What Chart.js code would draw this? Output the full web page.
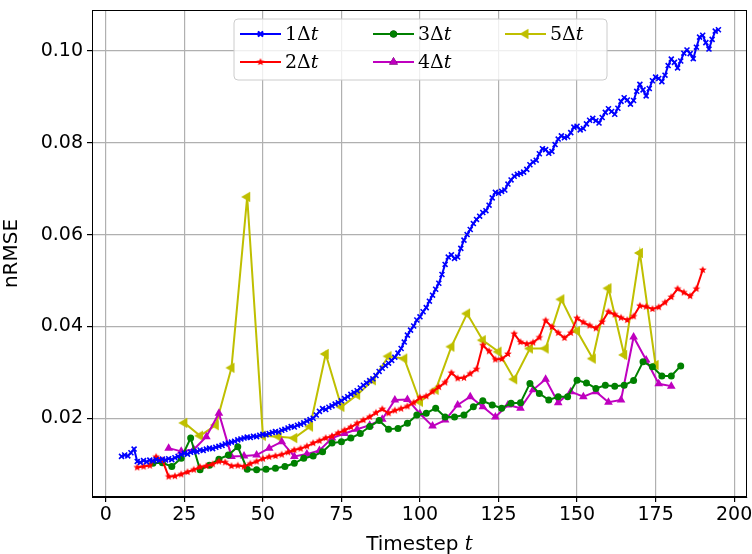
<!DOCTYPE html>
<html>
<head>
<meta charset="utf-8">
<script src="https://cdn.jsdelivr.net/npm/chart.js@4/dist/chart.umd.min.js"></script>
<style>
  html, body { margin: 0; padding: 0; background: #fff; overflow: hidden; }
  #wrap { width: 752px; height: 554px; overflow: hidden; }
</style>
</head>
<body>
<!-- canvas is 3px wider than the window: Chart.js keeps 3px spare on the right -->
<div id="wrap"><canvas id="chart" width="755" height="554"></canvas></div>
<script>
// tick labels
const xTicks = [0, 25, 50, 75, 100, 125, 150, 175, 200];
const yTicks = [0.02, 0.04, 0.06, 0.08, 0.10];

// 1Δt : t = 5..195
const x1 = [];
for (let t = 5; t <= 195; t++) x1.push(t);
const y1 = [
  0.0117, 0.0120, 0.0118, 0.0125, 0.0133, 0.0106, 0.0104, 0.0108, 0.0105, 0.0109,
  0.0107, 0.0110, 0.0108, 0.0111, 0.0109, 0.0112, 0.0110, 0.0114, 0.0117, 0.0121,
  0.0124, 0.0122, 0.0126, 0.0128, 0.0127, 0.0131, 0.0130, 0.0133, 0.0135, 0.0134,
  0.0137, 0.0139, 0.0141, 0.0144, 0.0146, 0.0148, 0.0150, 0.0153, 0.0155, 0.0157,
  0.0159, 0.0158, 0.0161, 0.0160, 0.0163, 0.0165, 0.0164, 0.0167, 0.0169, 0.0171,
  0.0170, 0.0174, 0.0176, 0.0179, 0.0182, 0.0181, 0.0185, 0.0187, 0.0190, 0.0194,
  0.0197, 0.0200, 0.0207, 0.0215, 0.0221, 0.0219, 0.0224, 0.0227, 0.0231, 0.0234,
  0.0238, 0.0243, 0.0247, 0.0252, 0.0256, 0.0260, 0.0266, 0.0272, 0.0277, 0.0282,
  0.0286, 0.0293, 0.0302, 0.0309, 0.0315, 0.0320, 0.0326, 0.0333, 0.0342, 0.0352,
  0.0366, 0.0381, 0.0392, 0.0401, 0.0414, 0.0421, 0.0432, 0.0441, 0.0455, 0.0468,
  0.0481, 0.0494, 0.0513, 0.0535, 0.0551, 0.0556, 0.0548, 0.0551, 0.0570, 0.0588,
  0.0600, 0.0611, 0.0624, 0.0633, 0.0640, 0.0648, 0.0652, 0.0664, 0.0680, 0.0692,
  0.0690, 0.0694, 0.0697, 0.0710, 0.0719, 0.0727, 0.0731, 0.0733, 0.0736, 0.0742,
  0.0752, 0.0758, 0.0762, 0.0776, 0.0787, 0.0785, 0.0777, 0.0781, 0.0796, 0.0808,
  0.0815, 0.0811, 0.0813, 0.0822, 0.0834, 0.0836, 0.0828, 0.0831, 0.0841, 0.0849,
  0.0853, 0.0848, 0.0843, 0.0855, 0.0866, 0.0874, 0.0868, 0.0862, 0.0875, 0.0890,
  0.0898, 0.0893, 0.0884, 0.0892, 0.0912, 0.0927, 0.0915, 0.0902, 0.0918, 0.0935,
  0.0943, 0.0940, 0.0933, 0.0947, 0.0968, 0.0982, 0.0975, 0.0963, 0.0978, 0.0995,
  0.1002, 0.0994, 0.0983, 0.1008, 0.1030, 0.1034, 0.1018, 0.1004, 0.1025, 0.1043,
  0.1046
];

// 2Δt : t = 10..190 step 2
const x2 = [];
for (let t = 10; t <= 190; t += 2) x2.push(t);
const y2 = [
  0.0093, 0.0095, 0.0097, 0.0116, 0.0109, 0.0073, 0.0074, 0.0078, 0.0083, 0.0088,
  0.0094, 0.0096, 0.0100, 0.0106, 0.0104, 0.0096, 0.0097, 0.0095, 0.0101, 0.0106,
  0.0112, 0.0116, 0.0118, 0.0121, 0.0126, 0.0131, 0.0134, 0.0139, 0.0146, 0.0151,
  0.0157, 0.0161, 0.0168, 0.0174, 0.0181, 0.0189, 0.0196, 0.0203, 0.0212, 0.0220,
  0.0211, 0.0217, 0.0221, 0.0226, 0.0234, 0.0245, 0.0248, 0.0258, 0.0268, 0.0278,
  0.0299, 0.0287, 0.0288, 0.0297, 0.0307, 0.0359, 0.0346, 0.0328, 0.0329, 0.0340,
  0.0384, 0.0366, 0.0362, 0.0365, 0.0376, 0.0413, 0.0399, 0.0386, 0.0375, 0.0386,
  0.0418, 0.0409, 0.0402, 0.0396, 0.0410, 0.0432, 0.0426, 0.0419, 0.0414, 0.0422,
  0.0445, 0.0443, 0.0438, 0.0442, 0.0452, 0.0464, 0.0482, 0.0474, 0.0466, 0.0482,
  0.0523
];

// 3Δt : t = 15..183 step 3
const x3 = [];
for (let t = 15; t <= 183; t += 3) x3.push(t);
const y3 = [
  0.0102, 0.0103, 0.0095, 0.0113, 0.0157, 0.0088, 0.0098, 0.0111, 0.0120, 0.0138,
  0.0089, 0.0088, 0.0089, 0.0091, 0.0095, 0.0102, 0.0113, 0.0118, 0.0127, 0.0146,
  0.0149, 0.0157, 0.0167, 0.0182, 0.0195, 0.0176, 0.0178, 0.0189, 0.0207, 0.0211,
  0.0222, 0.0203, 0.0203, 0.0207, 0.0225, 0.0238, 0.0229, 0.0222, 0.0233, 0.0234,
  0.0276, 0.0254, 0.0240, 0.0247, 0.0247, 0.0283, 0.0277, 0.0265, 0.0272, 0.0270,
  0.0272, 0.0282, 0.0323, 0.0312, 0.0292, 0.0292, 0.0314
];

// 4Δt : t = 20..180 step 4
const x4 = [];
for (let t = 20; t <= 180; t += 4) x4.push(t);
const y4 = [
  0.0135, 0.0128, 0.0132, 0.0160, 0.0211, 0.0117, 0.0118, 0.0120, 0.0135, 0.0149,
  0.0117, 0.0122, 0.0130, 0.0157, 0.0167, 0.0176, 0.0185, 0.0198, 0.0240, 0.0241,
  0.0210, 0.0183, 0.0196, 0.0229, 0.0247, 0.0225, 0.0203, 0.0229, 0.0222, 0.0262,
  0.0285, 0.0234, 0.0258, 0.0247, 0.0258, 0.0235, 0.0240, 0.0377, 0.0327, 0.0275,
  0.0270
];

// 5Δt : t = 25..175 step 5
const x5 = [];
for (let t = 25; t <= 175; t += 5) x5.push(t);
const y5 = [
  0.0190, 0.0162, 0.0185, 0.0310, 0.0682, 0.0162, 0.0160, 0.0157, 0.0182, 0.0340,
  0.0225, 0.0251, 0.0283, 0.0335, 0.0330, 0.0236, 0.0262, 0.0356, 0.0428, 0.0370,
  0.0345, 0.0285, 0.0352, 0.0352, 0.0459, 0.0390, 0.0330, 0.0483, 0.0338, 0.0560,
  0.0316
];

const labels = ['1', '2', '3', '4', '5'];
const colors = ['#0000ff', '#ff0000', '#008000', '#bf00bf', '#bfbf00'];

// small marker images
function makeStar(color, r) {
  const c = document.createElement('canvas');
  c.width = c.height = Math.ceil(r * 2 + 2);
  const g = c.getContext('2d');
  const cx = c.width / 2, cy = c.height / 2;
  g.beginPath();
  for (let i = 0; i < 10; i++) {
    const rad = i % 2 === 0 ? r : r * 0.45;
    const a = -Math.PI / 2 + i * Math.PI / 5;
    g.lineTo(cx + rad * Math.cos(a), cy + rad * Math.sin(a));
  }
  g.closePath();
  g.fillStyle = color;
  g.fill();
  return c;
}
function makeTriLeft(color, r) {
  const c = document.createElement('canvas');
  c.width = c.height = Math.ceil(r * 2 + 2);
  const g = c.getContext('2d');
  const cx = c.width / 2, cy = c.height / 2;
  g.beginPath();
  g.moveTo(cx - r, cy);
  g.lineTo(cx + r * 0.5, cy - r * 0.87);
  g.lineTo(cx + r * 0.5, cy + r * 0.87);
  g.closePath();
  g.fillStyle = color;
  g.fill();
  return c;
}
const starImg = makeStar(colors[1], 4);
const triLeftImg = makeTriLeft(colors[4], 6);

function pts(xs, ys) {
  return xs.map((x, i) => ({ x: x, y: ys[i] }));
}

const styles = [
  { pointStyle: 'crossRot', pointRadius: 3.5, pointBorderWidth: 1.6 },
  { pointStyle: starImg, pointRadius: 4 },
  { pointStyle: 'circle', pointRadius: 3.5, pointBorderWidth: 0 },
  { pointStyle: 'triangle', pointRadius: 5, pointBorderWidth: 0 },
  { pointStyle: triLeftImg, pointRadius: 6 }
];

const series = [[x1, y1], [x2, y2], [x3, y3], [x4, y4], [x5, y5]];
const datasets = series.map((s, i) => Object.assign({
  label: labels[i],
  data: pts(s[0], s[1]),
  borderColor: colors[i],
  backgroundColor: colors[i],
  pointBackgroundColor: colors[i],
  pointBorderColor: colors[i],
  borderWidth: 2,
  tension: 0,
  fill: false
}, styles[i]));

// frame + legend drawn on top
const framePlugin = {
  id: 'frame',
  afterDraw(chart) {
    const ctx = chart.ctx;
    const a = chart.chartArea;
    ctx.save();
    ctx.strokeStyle = '#000';
    ctx.lineWidth = 1;
    ctx.strokeRect(a.left + 0.5, a.top + 0.5, a.right - a.left - 1, a.bottom - a.top - 1);

    // legend box
    const bx = 234, by = 19, bw = 373, bh = 61, rr = 4;
    ctx.beginPath();
    ctx.moveTo(bx + rr, by);
    ctx.arcTo(bx + bw, by, bx + bw, by + bh, rr);
    ctx.arcTo(bx + bw, by + bh, bx, by + bh, rr);
    ctx.arcTo(bx, by + bh, bx, by, rr);
    ctx.arcTo(bx, by, bx + bw, by, rr);
    ctx.closePath();
    ctx.fillStyle = 'rgba(255,255,255,0.8)';
    ctx.fill();
    ctx.strokeStyle = '#cccccc';
    ctx.lineWidth = 1;
    ctx.stroke();

    const cols = [240, 373, 505];
    const rows = [34, 62];
    const place = [[0, 0], [0, 1], [1, 0], [1, 1], [2, 0]];
    place.forEach((p, i) => {
      const lx = cols[p[0]], ly = rows[p[1]];
      ctx.strokeStyle = colors[i];
      ctx.lineWidth = 2;
      ctx.beginPath();
      ctx.moveTo(lx, ly);
      ctx.lineTo(lx + 41, ly);
      ctx.stroke();
      const mx = lx + 20.5;
      const st = styles[i].pointStyle;
      if (typeof st === 'string') {
        Chart.helpers.drawPoint(ctx, {
          pointStyle: st,
          radius: styles[i].pointRadius,
          borderWidth: styles[i].pointBorderWidth || 0,
          rotation: 0
        }, mx, ly);
        ctx.fillStyle = colors[i];
        if (st === 'crossRot') {
          ctx.lineWidth = 1.6;
          ctx.stroke();
        } else {
          ctx.fill();
        }
      } else {
        ctx.drawImage(st, mx - st.width / 2, ly - st.height / 2);
      }
      // label: number + Δ + italic t
      ctx.fillStyle = '#000';
      ctx.textBaseline = 'middle';
      ctx.textAlign = 'left';
      ctx.font = '19px "DejaVu Serif"';
      const tx = lx + 45;
      const s1 = labels[i] + 'Δ';
      ctx.fillText(s1, tx, ly + 1);
      const w1 = ctx.measureText(s1).width;
      ctx.font = 'italic 19px "DejaVu Serif"';
      ctx.fillText('t', tx + w1, ly + 1);
    });
    ctx.restore();
  }
};

// x axis title with italic t
const xTitlePlugin = {
  id: 'xtitle',
  afterDraw(chart) {
    const ctx = chart.ctx;
    const a = chart.chartArea;
    ctx.save();
    ctx.fillStyle = '#000';
    ctx.textBaseline = 'alphabetic';
    ctx.font = '20px "DejaVu Sans"';
    const s1 = 'Timestep ';
    const w1 = ctx.measureText(s1).width;
    ctx.font = 'italic 20px "DejaVu Serif"';
    const w2 = ctx.measureText('t').width;
    const x0 = (a.left + a.right) / 2 - (w1 + w2) / 2;
    ctx.font = '20px "DejaVu Sans"';
    ctx.fillText(s1, x0, 550);
    ctx.font = 'italic 20px "DejaVu Serif"';
    ctx.fillText('t', x0 + w1, 550);
    ctx.restore();
  }
};

new Chart(document.getElementById('chart'), {
  type: 'line',
  data: { datasets: datasets },
  options: {
    responsive: false,
    animation: false,
    layout: { padding: { left: 0, right: 2, top: 10, bottom: 0 } },
    plugins: { legend: { display: false }, tooltip: { enabled: false } },
    scales: {
      x: {
        type: 'linear',
        min: -4.4,
        max: 204.1,
        afterBuildTicks: (s) => { s.ticks = xTicks.map(v => ({ value: v })); },
        afterFit: (s) => { s.height = 57; s.paddingLeft = 0; s.paddingRight = 0; },
        ticks: {
          color: '#000',
          font: { family: 'DejaVu Sans', size: 19 },
          padding: 2,
          maxRotation: 0
        },
        grid: { color: '#b0b0b0', lineWidth: 1.2, tickColor: '#000', tickLength: 5 },
        border: { display: true, color: '#000', width: 1 }
      },
      y: {
        type: 'linear',
        min: 0.00286,
        max: 0.1089,
        afterBuildTicks: (s) => { s.ticks = yTicks.map(v => ({ value: v })); },
        afterFit: (s) => { s.width = 92; s.paddingTop = 0; s.paddingBottom = 0; },
        ticks: {
          color: '#000',
          font: { family: 'DejaVu Sans', size: 19 },
          padding: 4,
          callback: (v) => v.toFixed(2)
        },
        grid: { color: '#b0b0b0', lineWidth: 1.2, tickColor: '#000', tickLength: 5 },
        border: { display: true, color: '#000', width: 1 },
        title: {
          display: true,
          text: 'nRMSE',
          color: '#000',
          font: { family: 'DejaVu Sans', size: 20 },
          padding: { top: 0, bottom: 4 }
        }
      }
    }
  },
  plugins: [framePlugin, xTitlePlugin]
});
</script>
</body>
</html>
